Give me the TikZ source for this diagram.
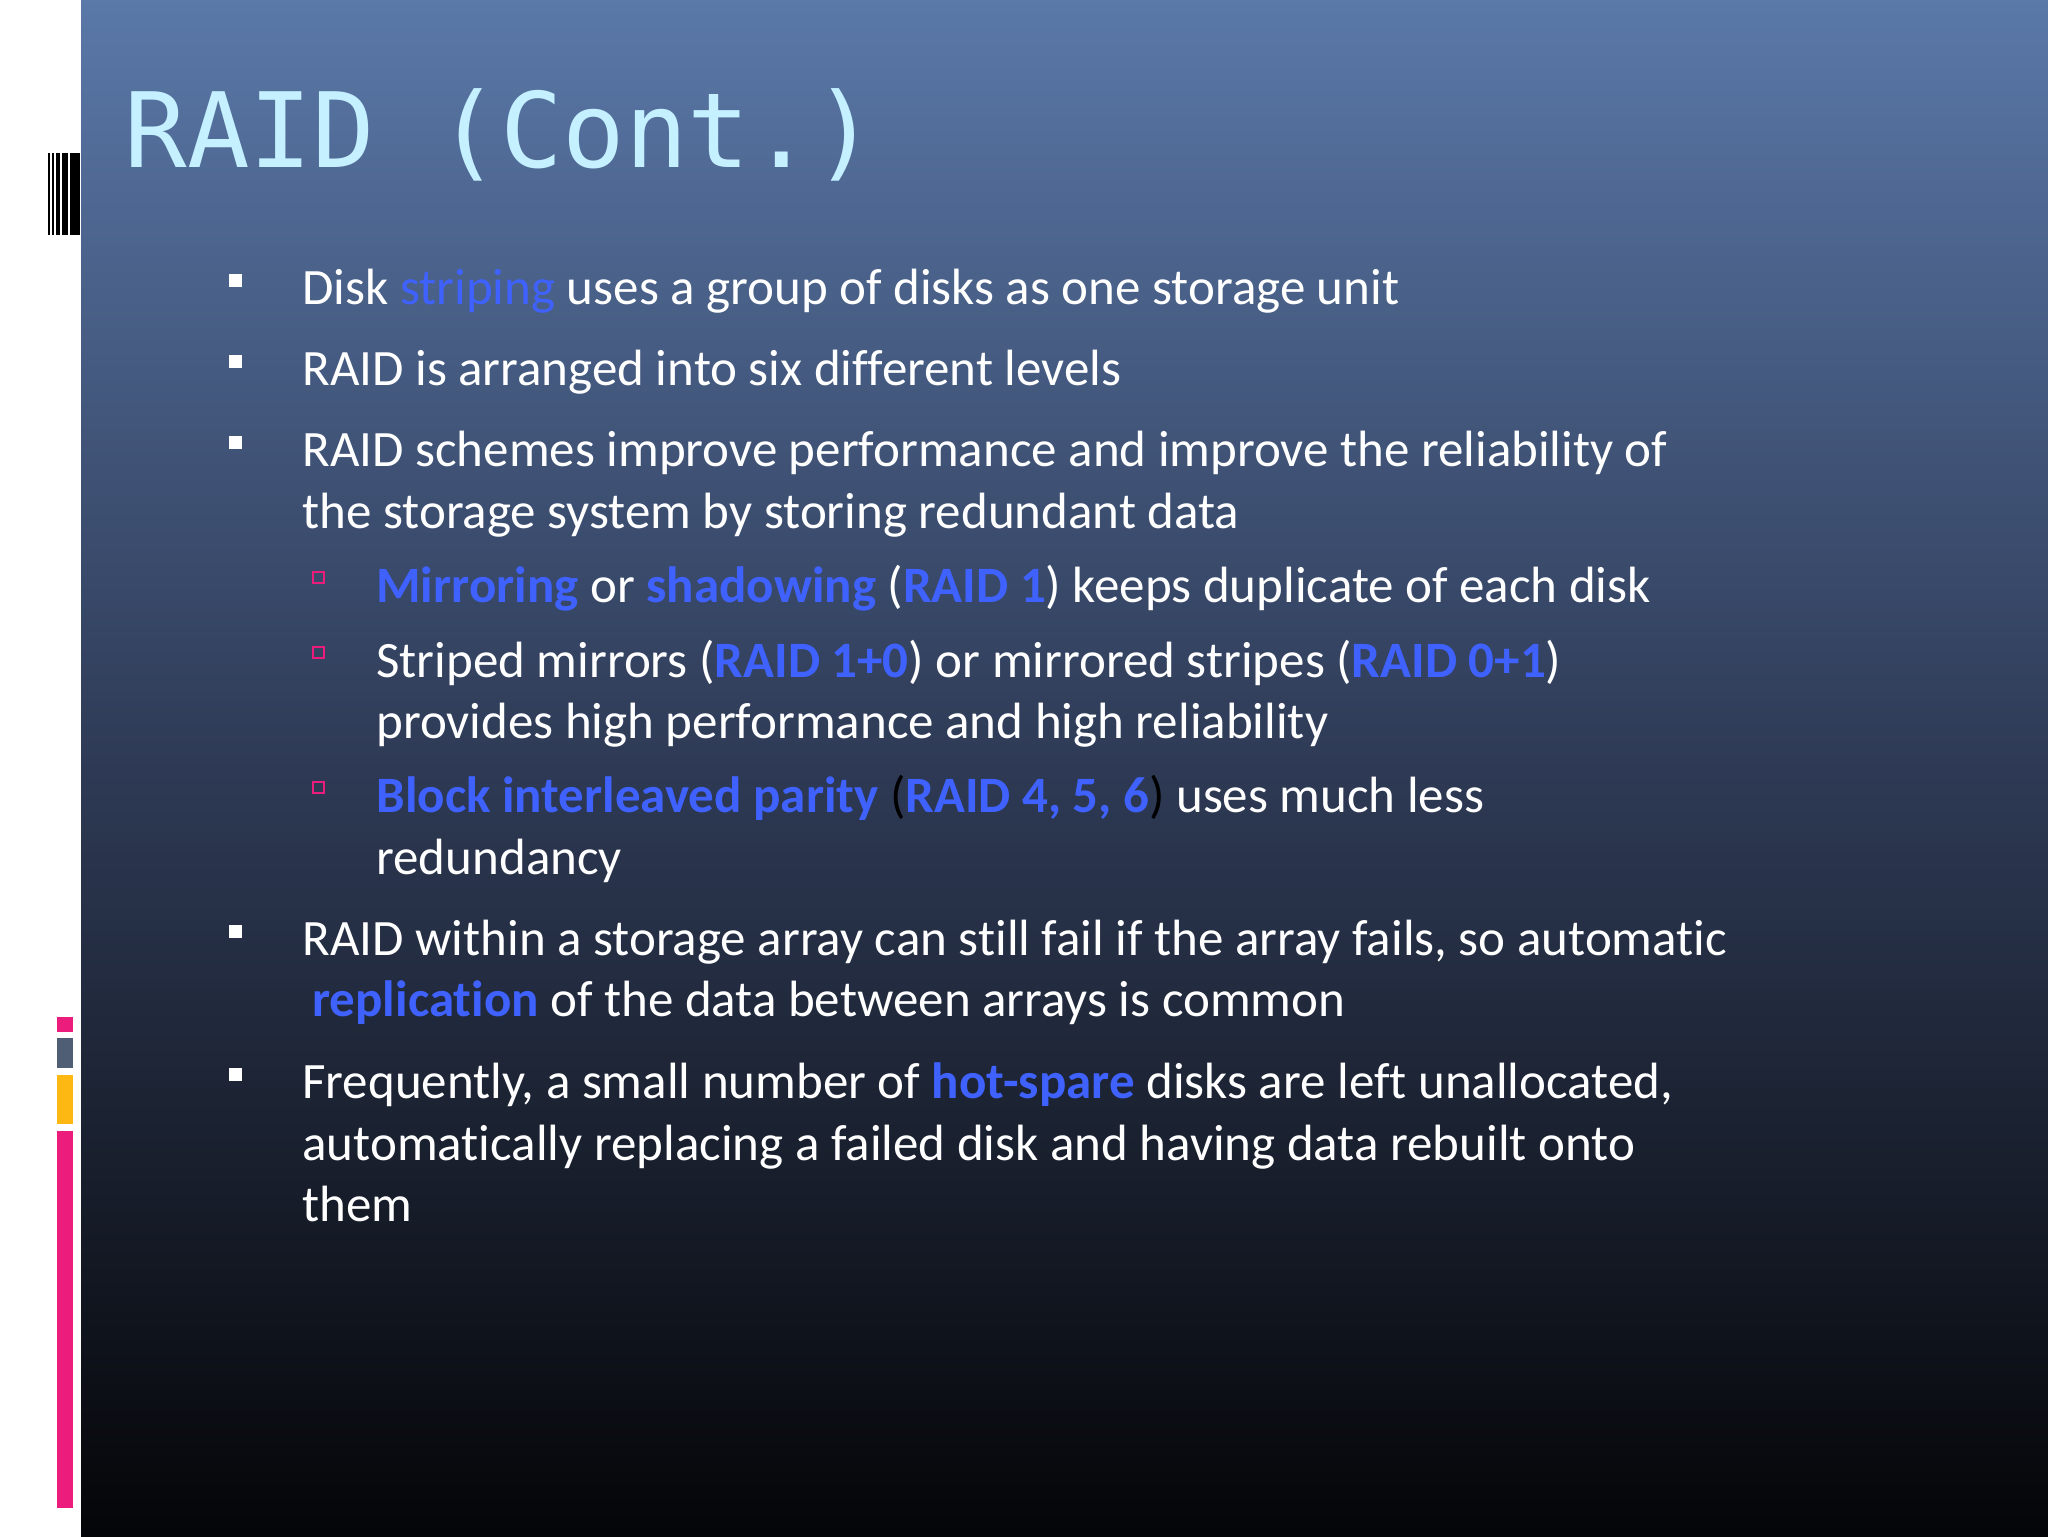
\documentclass[tikz,border=0pt]{standalone}
\usepackage{fontspec}
\setmainfont{Carlito}[Ligatures=NoCommon]
\newfontfamily\titlefont{DejaVu Sans Mono}
\definecolor{bgtop}{HTML}{5A78A8}
\definecolor{bgmid}{HTML}{2E3A55}
\definecolor{bgbot}{HTML}{040507}
\definecolor{titlec}{HTML}{C4F0FF}
\definecolor{hl}{HTML}{3F62FF}
\definecolor{pinkc}{HTML}{EC1C7C}
\definecolor{greyc}{HTML}{4F5D75}
\definecolor{yelc}{HTML}{FDB813}
\tikzset{
 body/.style={anchor=base west,inner sep=0pt,text=white,font=\fontsize{25.5pt}{30pt}\selectfont},
 bul/.style={fill=white},
 subbul/.style={draw=pinkc,line width=0.8pt},
}
\newcommand{\hb}[1]{\textcolor{hl}{\bfseries #1}}
\begin{document}
\begin{tikzpicture}[x=0.5pt,y=-0.5pt]
\useasboundingbox (0,0) rectangle (2048,1536);
\fill[white] (0,0) rectangle (81,1536);
\shade[top color=bgtop,bottom color=bgmid] (81,0) rectangle (2048,768);
\shade[top color=bgmid,bottom color=bgbot] (81,768) rectangle (2048,1536);
% barcode
\foreach \a/\b in {48/50,52/54,56/60,62/68,70/80}{\fill[black] (\a,153) rectangle (\b,235);}
% colour bars
\fill[pinkc] (57,1017) rectangle (73,1032);
\fill[greyc] (57,1038) rectangle (73,1068);
\fill[yelc] (57,1075) rectangle (73,1124);
\fill[pinkc] (57,1131) rectangle (73,1508);
% title
\node[anchor=base west,inner sep=0pt,text=titlec,font=\titlefont\fontsize{52pt}{60pt}\selectfont] (title) at (124,167) {RAID (Cont.)};
% level-1 bullets
\foreach \y in {304,385,466,955,1098}{\fill[bul] (229,\y-30) rectangle (242,\y-17);}
% level-2 bullets
\foreach \y in {602,677,812}{\draw[subbul] (313,\y-30) rectangle (324,\y-19);}
\node[body] (l1) at (302,304) {Disk \textcolor{hl}{striping} uses a group of disks as one storage unit};
\node[body] (l2) at (302,385) {RAID is arranged into six different levels};
\node[body] (l3) at (302,466) {RAID schemes improve performance and improve the reliability of};
\node[body] (l3b) at (302,528) {the storage system by storing redundant data};
\node[body] (s1) at (376,602) {\hb{Mirroring} or \hb{shadowing} (\hb{RAID 1}) keeps duplicate of each disk};
\node[body] (s2) at (376,677) {Striped mirrors (\hb{RAID 1+0}) or mirrored stripes (\hb{RAID 0+1})};
\node[body] (s2b) at (376,738) {provides high performance and high reliability};
\node[body] (s3) at (376,812) {\hb{Block interleaved parity} \textcolor{black}{(}\hb{RAID 4, 5, 6}\textcolor{black}{)} uses much less};
\node[body] (s3b) at (376,874) {redundancy};
\node[body] (l4) at (302,955) {RAID within a storage array can still fail if the array fails, so automatic};
\node[body] (l4b) at (312,1016) {\hb{replication} of the data between arrays is common};
\node[body] (l5) at (302,1098) {Frequently, a small number of \hb{hot-spare} disks are left unallocated,};
\node[body] (l5b) at (302,1160) {automatically replacing a failed disk and having data rebuilt onto};
\node[body] (l5c) at (302,1221) {them};
\end{tikzpicture}
\end{document}
